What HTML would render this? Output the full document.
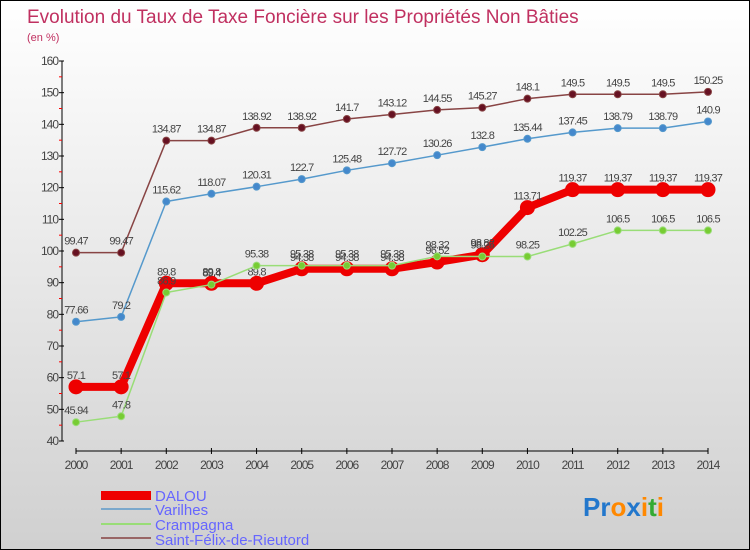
<!DOCTYPE html>
<html><head><meta charset="utf-8"><style>
body{margin:0}
#c{width:750px;height:550px;position:relative;font-family:"Liberation Sans",sans-serif;background:linear-gradient(#ffffff,#d0d0d0);border:1px solid #000;box-sizing:border-box;overflow:hidden}
</style></head><body>
<div id="c">
<svg id="s" width="750" height="550">
<text x="26" y="22" font-size="19" fill="#c03060">Evolution du Taux de Taxe Foncière sur les Propriétés Non Bâties</text>
<text x="26" y="40" font-size="11" fill="#c03060">(en %)</text>
<g id="g"></g>
<g>
<rect x="100" y="490" width="50" height="9" fill="#ee0000"/>
<text x="154" y="500" font-size="15" fill="#6666ff">DALOU</text>
<line x1="100" y1="508" x2="150" y2="508" stroke="#7aa8cc" stroke-width="2"/>
<text x="154" y="514" font-size="15" fill="#6666ff">Varilhes</text>
<line x1="100" y1="523" x2="150" y2="523" stroke="#99dd77" stroke-width="2"/>
<text x="154" y="529" font-size="15" fill="#6666ff">Crampagna</text>
<line x1="100" y1="537" x2="150" y2="537" stroke="#996666" stroke-width="2"/>
<text x="154" y="544" font-size="15" fill="#6666ff">Saint-Félix-de-Rieutord</text>
</g>
<text x="582" y="515" font-size="26" font-weight="bold"><tspan fill="#2277cc">Pr</tspan><tspan fill="#ff8800">o</tspan><tspan fill="#2277cc">x</tspan><tspan fill="#ff8800">i</tspan><tspan fill="#33aa33">t</tspan><tspan fill="#ff8800">i</tspan></text>
</svg></div>
<script>
const years=[2000,2001,2002,2003,2004,2005,2006,2007,2008,2009,2010,2011,2012,2013,2014];
const yTicks=[40,50,60,70,80,90,100,110,120,130,140,150,160];
const dalou=[57.1,57.1,89.8,89.8,89.8,94.38,94.38,94.38,96.52,98.82,113.71,119.37,119.37,119.37,119.37];
const varilhes=[77.66,79.2,115.62,118.07,120.31,122.7,125.48,127.72,130.26,132.8,135.44,137.45,138.79,138.79,140.9];
const crampagna=[45.94,47.8,86.9,89.4,95.38,95.38,95.38,95.38,98.32,98.25,98.25,102.25,106.5,106.5,106.5];
const saintFelix=[99.47,99.47,134.87,134.87,138.92,138.92,141.7,143.12,144.55,145.27,148.1,149.5,149.5,149.5,150.25];
const NS='http://www.w3.org/2000/svg',g=document.getElementById('g');
const X=i=>75+i*(707-75)/(years.length-1);
const Y=v=>440-(v-40)*(380/120);
function el(t,a,p){const e=document.createElementNS(NS,t);for(const k in a)e.setAttribute(k,a[k]);(p||g).appendChild(e);return e;}
// axes
let ax=el('line',{x1:61,y1:60,x2:61,y2:440,stroke:'#000','stroke-width':1});


yTicks.forEach(v=>{el('line',{x1:58,x2:63,y1:Y(v),y2:Y(v),stroke:'#000'});
 if(v<160)el('line',{x1:58,x2:61,y1:Y(v+5),y2:Y(v+5),stroke:'#f00'});
 const t=el('text',{x:57,y:Y(v)+4,'font-size':12,'text-anchor':'end',fill:'#444','letter-spacing':'-1'});t.textContent=v;
 
 });
let xa=el('line',{x1:75,y1:450,x2:707,y2:450,stroke:'#000'});


years.forEach((y,i)=>{el('line',{x1:X(i),x2:X(i),y1:447,y2:453,stroke:'#000'});
 const t=el('text',{x:X(i),y:468,'font-size':12,'text-anchor':'middle',fill:'#444','letter-spacing':'-1'});t.textContent=y;
 
 });
function series(d,name,col,w,r,fill){
 const p=el('polyline',{points:d.map((v,i)=>X(i)+','+Y(v)).join(' '),fill:'none',stroke:col,'stroke-width':w,'stroke-linejoin':'round'});
 
 
 d.forEach((v,i)=>{const c=el('circle',{cx:X(i),cy:Y(v),r:r,fill:fill,stroke:col,'stroke-width':1});
  
  
  const t=el('text',{x:X(i),y:Y(v)-8,'font-size':11,'text-anchor':'middle',fill:'#444','letter-spacing':'-0.8'});t.textContent=v;
  
  });
}
series(saintFelix,'saint-felix','#884444',1.5,3.5,'#661122');
series(varilhes,'varilhes','#5599cc',1.5,3.5,'#4488cc');
series(dalou,'dalou','#ee0000',8,7,'#ee0000');
series(crampagna,'crampagna','#99dd77',1.5,3.5,'#77cc33');
</script>
</body></html>
